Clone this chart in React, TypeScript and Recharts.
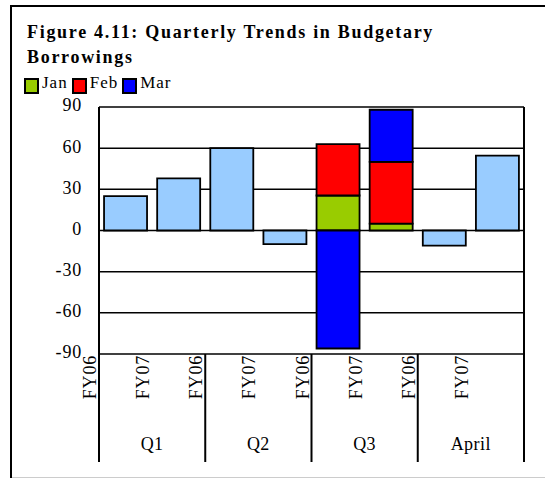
import React from "react";
import { BarChart, Bar, XAxis, YAxis, CartesianGrid, Legend } from "recharts";

// ---- data ----
const fyLabels = ["FY06", "FY07", "FY06", "FY07", "FY06", "FY07", "FY06", "FY07"];
const groupLabels = ["Q1", "Q1", "Q2", "Q2", "Q3", "Q3", "April", "April"];
const totalValues: (number | null)[] = [25, 38, 60, -10, null, null, -11, 54.5];
const janValues: (number | null)[] = [null, null, null, null, 25.5, 5, null, null];
const febValues: (number | null)[] = [null, null, null, null, 37.5, 45, null, null];
const marValues: (number | null)[] = [null, null, null, null, -86, 38, null, null];
const yTicks = [-90, -60, -30, 0, 30, 60, 90];
const seriesNames = ["Jan", "Feb", "Mar"];
const seriesColors = ["#99CC00", "#FF0000", "#0000FF"];
const totalColor = "#99CCFF";
const titleLines = ["Figure 4.11: Quarterly Trends in Budgetary", "Borrowings"];

const data = fyLabels.map((fy, i) => ({
  fy,
  group: groupLabels[i],
  total: totalValues[i],
  Jan: janValues[i],
  Feb: febValues[i],
  Mar: marValues[i],
}));

const FONT = "'Liberation Serif', 'Times New Roman', serif";
const W = 545;
const H = 478;
const PLOT_LEFT = 99;
const PLOT_RIGHT = 524;
const PLOT_TOP = 107;
const PLOT_BOTTOM = 354;
const BAND = (PLOT_RIGHT - PLOT_LEFT) / fyLabels.length;

const XTick = (props: any) => {
  const { x, y, payload, index } = props;
  const i = typeof index === "number" ? index : payload.index;
  const half = BAND / 2;
  const lx = x - 29.5;
  const ly = y + 1;
  return (
    <g>
      <text
        x={lx}
        y={ly}
        transform={`rotate(-90 ${lx} ${ly})`}
        textAnchor="end"
        fontFamily={FONT}
        fontSize={18}
        letterSpacing={0.8}
        fill="#000"
      >
        {payload.value}
      </text>
      {i % 2 === 0 && (
        <>
          <line x1={x - half} x2={x - half} y1={y} y2={y + 108} stroke="#000" strokeWidth={2} />
          <text
            x={x + half}
            y={y + 96}
            textAnchor="middle"
            fontFamily={FONT}
            fontSize={18}
            letterSpacing={0.5}
            fill="#000"
          >
            {groupLabels[i]}
          </text>
        </>
      )}
      {i === fyLabels.length - 1 && (
        <line x1={x + half} x2={x + half} y1={y} y2={y + 108} stroke="#000" strokeWidth={2} />
      )}
    </g>
  );
};

const LegendContent = () => (
  <div style={{ display: "flex", alignItems: "flex-start", fontFamily: FONT, fontSize: 17, lineHeight: "17px", color: "#000" }}>
    {seriesNames.map((name, i) => (
      <div key={name} style={{ display: "flex", alignItems: "flex-start", marginRight: 4 }}>
        <div
          style={{
            width: 15,
            height: 16,
            marginTop: 4,
            marginRight: 3,
            boxSizing: "border-box",
            border: "2px solid #000",
            background: seriesColors[i],
          }}
        />
        <span style={{ letterSpacing: 1 }}>{name}</span>
      </div>
    ))}
  </div>
);

export default function App() {
  return (
    <div style={{ position: "absolute", left: 0, top: 0, width: W, height: H, background: "#fff" }}>
      <BarChart
        width={W}
        height={H}
        data={data}
        stackOffset="sign"
        barCategoryGap="9.5%"
        margin={{ top: PLOT_TOP, right: 0, bottom: 0, left: 0 }}
      >
        <CartesianGrid vertical={false} stroke="#000" strokeWidth={1.5} />
        <XAxis
          dataKey="fy"
          interval={0}
          height={H - PLOT_BOTTOM}
          axisLine={false}
          tickLine={false}
          tickSize={0}
          tickMargin={0}
          tick={<XTick />}
        />
        <YAxis
          domain={[-90, 90]}
          ticks={yTicks}
          width={PLOT_LEFT}
          tickLine={false}
          tickSize={0}
          tickMargin={17}
          axisLine={{ stroke: "#000", strokeWidth: 2 }}
          tick={{ fontFamily: FONT, fontSize: 18, fill: "#000", dy: -2, letterSpacing: 0.8 }}
        />
        <YAxis
          yAxisId="r"
          orientation="right"
          domain={[-90, 90]}
          ticks={yTicks}
          width={W - PLOT_RIGHT}
          tick={false}
          tickLine={false}
          axisLine={{ stroke: "#000", strokeWidth: 2 }}
        />
        <Legend
          layout="horizontal"
          verticalAlign="middle"
          align="center"
          content={<LegendContent />}
          wrapperStyle={{ left: 24, top: 74, width: "auto", height: "auto" }}
        />
        <Bar dataKey="total" stackId="a" fill={totalColor} stroke="#000" strokeWidth={1.8} isAnimationActive={false} legendType="none" />
        {seriesNames.map((name, i) => (
          <Bar key={name} dataKey={name} stackId="a" fill={seriesColors[i]} stroke="#000" strokeWidth={1.8} isAnimationActive={false} />
        ))}
      </BarChart>
      <svg width={W} height={H} style={{ position: "absolute", left: 0, top: 0, pointerEvents: "none" }}>
        <line x1={11} x2={11} y1={5} y2={H} stroke="#000" strokeWidth={2} />
        <line x1={10} x2={W} y1={6} y2={6} stroke="#000" strokeWidth={2} />
        <line x1={12} x2={W} y1={477.5} y2={477.5} stroke="#ccc" strokeWidth={1} />
        {titleLines.map((t, i) => (
          <text key={i} x={27} y={38 + i * 25} fontFamily={FONT} fontWeight="bold" fontSize={18} letterSpacing={1.7} fill="#000">
            {t}
          </text>
        ))}
      </svg>
    </div>
  );
}
